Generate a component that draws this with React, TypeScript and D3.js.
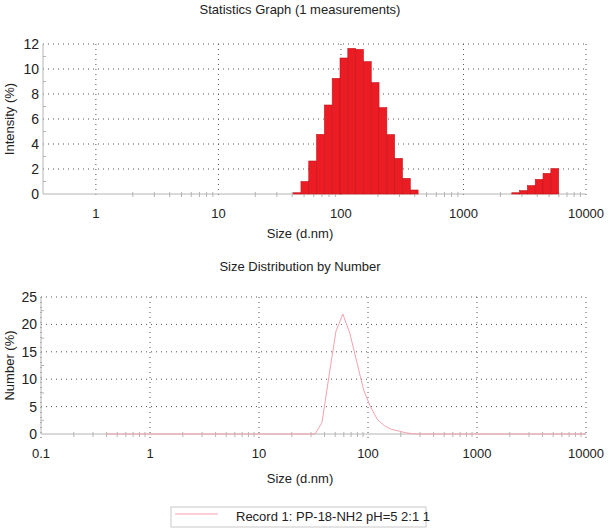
import * as d3 from "d3";

// Malvern size classes (d.nm), 70 bins
const sizes = [
  0.4, 0.4632, 0.5365, 0.6213, 0.7195, 0.8332, 0.9649,
  1.117, 1.294, 1.499, 1.736, 2.01, 2.328, 2.696, 3.122, 3.615, 4.187, 4.849, 5.615, 6.503, 7.531, 8.721,
  10.1, 11.7, 13.54, 15.69, 18.17, 21.04, 24.36, 28.21, 32.67, 37.84, 43.82, 50.75, 58.77, 68.06, 78.82, 91.28,
  105.7, 122.4, 141.8, 164.2, 190.1, 220.2, 255.0, 295.3, 342.0, 396.1, 458.7, 531.2, 615.1, 712.4, 825.0, 955.4,
  1106, 1281, 1484, 1718, 1990, 2305, 2669, 3091, 3580, 4145, 4801, 5560, 6439, 7456, 8635, 10000,
];

const intensity = [
  0, 0, 0, 0, 0, 0, 0,
  0, 0, 0, 0, 0, 0, 0, 0, 0, 0, 0, 0, 0, 0, 0,
  0, 0, 0, 0, 0, 0, 0, 0, 0, 0, 0.1, 1.0, 2.64, 4.77, 7.12, 9.25,
  10.88, 11.65, 11.57, 10.59, 8.91, 6.91, 4.75, 2.85, 1.25, 0.32, 0, 0, 0, 0, 0, 0,
  0, 0, 0, 0, 0, 0, 0.1, 0.27, 0.67, 1.17, 1.65, 2.03, 0, 0, 0, 0,
];

const numberPct = [
  0, 0, 0, 0, 0, 0, 0,
  0, 0, 0, 0, 0, 0, 0, 0, 0, 0, 0, 0, 0, 0, 0,
  0, 0, 0, 0, 0, 0, 0, 0, 0, 2.1, 10.5, 18.7, 21.9, 18.4, 13.2, 8.0,
  4.9, 2.6, 1.5, 0.85, 0.55, 0.25, 0.06, 0, 0, 0, 0, 0, 0, 0, 0, 0,
  0, 0, 0, 0, 0, 0, 0, 0, 0, 0, 0, 0, 0, 0, 0, 0,
];

const topYTicks = [0, 2, 4, 6, 8, 10, 12];
const botYTicks = [0, 5, 10, 15, 20, 25];
const topXTicks = [1, 10, 100, 1000, 10000];
const botXTicks = [0.1, 1, 10, 100, 1000, 10000];
const legendLabel = "Record 1: PP-18-NH2 pH=5 2:1 1";

const font = "'Liberation Sans', Arial, sans-serif";
const axisGray = "#b4b4b4";
const dotColor = "#555";

function minorTicks(lo: number, hi: number) {
  const out: number[] = [];
  for (let d = lo; d < hi; d *= 10) {
    for (let k = 2; k <= 9; k++) {
      const v = d * k;
      if (v < hi) out.push(v);
    }
  }
  return out;
}

function Panel({
  x, y, xTicks, yTicks, minorY, minorLo, yLabel, title, titleY, xLabelY, tickLabelY,
  children,
}: any) {
  const [x0, x1] = x.range();
  const [y0, y1] = y.range();
  const xMinor = minorTicks(minorLo, 10000);
  return (
    <g>
      <text x={300} y={titleY} textAnchor="middle" fontSize={13} fontFamily={font} fill="#222">{title}</text>
      {yTicks.filter((t: number) => t > 0).map((t: number) => (
        <line key={"gy" + t} x1={x0} x2={x1} y1={y(t)} y2={y(t)} stroke={dotColor} strokeDasharray="1,4" />
      ))}
      {xTicks.map((t: number) => (
        <line key={"gx" + t} x1={x(t)} x2={x(t)} y1={y1} y2={y0 + 4} stroke={dotColor} strokeDasharray="1,4" />
      ))}
      {minorY.map((t: number) => (
        <line key={"my" + t} x1={x0} x2={x0 + 3} y1={y(t)} y2={y(t)} stroke={axisGray} />
      ))}
      {xMinor.map((t: number) => (
        <line key={"mx" + t} x1={x(t)} x2={x(t)} y1={y0 - 2} y2={y0 + 3} stroke={axisGray} />
      ))}
      <line x1={x0} x2={x1} y1={y0} y2={y0} stroke={axisGray} />
      <line x1={x0} x2={x0} y1={y0} y2={y1} stroke={axisGray} />
      {children}
      {yTicks.map((t: number) => (
        <text key={"ly" + t} x={x0 - 4} y={y(t) + 5} textAnchor="end" fontSize={14} fontFamily={font} fill="#222">{t}</text>
      ))}
      {xTicks.map((t: number) => (
        <text key={"lx" + t} x={x(t)} y={tickLabelY} textAnchor="middle" fontSize={13} fontFamily={font} fill="#222">{String(t)}</text>
      ))}
      <text x={300} y={xLabelY} textAnchor="middle" fontSize={13} fontFamily={font} fill="#222">Size (d.nm)</text>
      <text transform={`translate(14,${(y0 + y1) / 2}) rotate(-90)`} textAnchor="middle" fontSize={13} fontFamily={font} fill="#222">{yLabel}</text>
    </g>
  );
}

export default function App() {
  const xTop = d3.scaleLog().domain([0.37, 10000]).range([43, 586]);
  const yTop = d3.scaleLinear().domain([0, 12]).range([194, 44]);
  const xBot = d3.scaleLog().domain([0.1, 10000]).range([41, 586]);
  const yBot = d3.scaleLinear().domain([0, 25]).range([434, 297]);
  const half = Math.sqrt(sizes[1] / sizes[0]);

  const line = d3.line<number>()
    .x((_, i) => xBot(sizes[i]))
    .y((d) => yBot(d));

  return (
    <svg width={610} height={532} style={{ position: "absolute", left: 0, top: 0, background: "#fff" }}>
      <Panel x={xTop} y={yTop} xTicks={topXTicks} yTicks={topYTicks} minorY={[1, 3, 5, 7, 9, 11]} minorLo={1}
        yLabel="Intensity (%)" title="Statistics Graph (1 measurements)" titleY={14} xLabelY={238} tickLabelY={218}>
        {intensity.map((v, i) => v > 0 && (
          <rect key={i} x={xTop(sizes[i] / half)} width={xTop(sizes[i] * half) - xTop(sizes[i] / half)}
            y={yTop(v)} height={yTop(0) - yTop(v)} fill="#ec1c24" stroke="#c4161c" strokeWidth={0.6} />
        ))}
      </Panel>
      <Panel x={xBot} y={yBot} xTicks={botXTicks} yTicks={botYTicks} minorY={[2.5, 7.5, 12.5, 17.5, 22.5]} minorLo={0.1}
        yLabel="Number (%)" title="Size Distribution by Number" titleY={271} xLabelY={483} tickLabelY={458}>
        <path d={line(numberPct) || ""} fill="none" stroke="#f2a3ad" strokeWidth={1} />
      </Panel>
      <g>
        <rect x={171} y={507} width={255} height={20} fill="#fff" stroke="#c8c8c8" />
        <line x1={175} x2={218} y1={514} y2={514} stroke="#f2a3ad" />
        <text x={236} y={521} fontSize={13} fontFamily={font} fill="#222">{legendLabel}</text>
      </g>
    </svg>
  );
}
